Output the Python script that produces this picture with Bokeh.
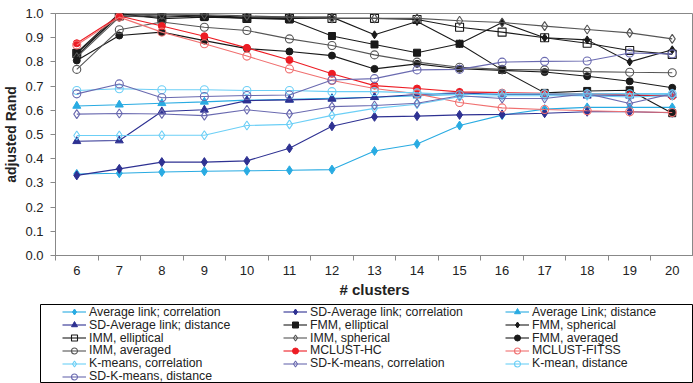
from bokeh.plotting import figure
from bokeh.layouts import column, row
from bokeh.models import Range1d, FixedTicker, Legend, LegendItem, NumeralTickFormatter
from bokeh.embed import file_html
from bokeh.resources import INLINE

clusters = list(range(6, 21))
y_ticks = [0.0, 0.1, 0.2, 0.3, 0.4, 0.5, 0.6, 0.7, 0.8, 0.9, 1.0]

avg_link_corr = [0.337, 0.340, 0.345, 0.348, 0.350, 0.352, 0.355, 0.432, 0.461, 0.537, 0.580, 0.605, 0.612, 0.612, 0.612]
sd_avg_link_corr = [0.331, 0.358, 0.386, 0.386, 0.391, 0.443, 0.534, 0.573, 0.576, 0.581, 0.583, 0.588, 0.594, 0.594, 0.590]
avg_link_dist = [0.618, 0.623, 0.629, 0.635, 0.642, 0.645, 0.650, 0.654, 0.660, 0.665, 0.665, 0.668, 0.668, 0.668, 0.668]
sd_avg_link_dist = [0.472, 0.475, 0.595, 0.602, 0.640, 0.643, 0.647, 0.654, 0.665, 0.672, 0.665, 0.665, 0.660, 0.660, 0.662]
fmm_elliptical = [0.838, 1.000, 0.978, 0.985, 0.981, 0.975, 0.907, 0.872, 0.838, 0.875, 0.767, 0.672, 0.680, 0.683, 0.588]
fmm_spherical = [0.825, 0.995, 0.995, 0.990, 0.985, 0.985, 0.985, 0.912, 0.967, 0.875, 0.963, 0.900, 0.891, 0.800, 0.850]
imm_elliptical = [0.835, 0.990, 0.985, 0.990, 0.980, 0.980, 0.980, 0.980, 0.975, 0.943, 0.923, 0.900, 0.877, 0.847, 0.831]
imm_spherical = [0.820, 0.985, 0.995, 0.995, 0.990, 0.985, 0.980, 0.980, 0.980, 0.970, 0.963, 0.948, 0.934, 0.920, 0.895]
fmm_averaged = [0.806, 0.909, 0.923, 0.888, 0.855, 0.843, 0.826, 0.771, 0.792, 0.772, 0.765, 0.758, 0.741, 0.720, 0.693]
imm_averaged = [0.769, 0.933, 0.965, 0.943, 0.930, 0.895, 0.868, 0.829, 0.799, 0.778, 0.769, 0.767, 0.760, 0.757, 0.755]
mclust_hc = [0.877, 0.990, 0.948, 0.906, 0.858, 0.808, 0.751, 0.702, 0.690, 0.676, 0.673, 0.670, 0.668, 0.664, 0.658]
mclust_fitss = [0.870, 0.985, 0.923, 0.875, 0.824, 0.771, 0.723, 0.690, 0.668, 0.632, 0.610, 0.603, 0.598, 0.594, 0.591]
kmeans_corr = [0.496, 0.496, 0.497, 0.497, 0.537, 0.542, 0.579, 0.608, 0.625, 0.656, 0.660, 0.660, 0.660, 0.655, 0.660]
sd_kmeans_corr = [0.584, 0.587, 0.585, 0.578, 0.602, 0.585, 0.615, 0.620, 0.629, 0.660, 0.649, 0.649, 0.669, 0.628, 0.669]
kmean_dist = [0.682, 0.689, 0.685, 0.685, 0.682, 0.682, 0.677, 0.677, 0.672, 0.664, 0.668, 0.668, 0.668, 0.668, 0.668]
sd_kmeans_dist = [0.668, 0.709, 0.652, 0.657, 0.661, 0.663, 0.725, 0.731, 0.767, 0.769, 0.799, 0.802, 0.804, 0.837, 0.833]

LB = "#29ABE2"
NAVY = "#2E3192"
BLK = "#1A1A1A"
GRY = "#555555"
RED = "#ED1C24"
LRED = "#F07070"
LLB = "#6CCFF6"
PUR = "#6A6AB0"

# label, values, line color, marker, filled, size
series = [
    ("Average link; correlation", avg_link_corr, LB, "diamond", True, 9),
    ("SD-Average link; correlation", sd_avg_link_corr, NAVY, "diamond", True, 9),
    ("Average Link; distance", avg_link_dist, LB, "triangle", True, 8),
    ("SD-Average link; distance", sd_avg_link_dist, NAVY, "triangle", True, 8),
    ("FMM, elliptical", fmm_elliptical, BLK, "square", True, 7),
    ("FMM, spherical", fmm_spherical, BLK, "diamond", True, 8),
    ("IMM, elliptical", imm_elliptical, BLK, "square", False, 8),
    ("IMM, spherical", imm_spherical, GRY, "diamond", False, 9),
    ("FMM, averaged", fmm_averaged, BLK, "circle", True, 7),
    ("IMM, averaged", imm_averaged, GRY, "circle", False, 8),
    ("MCLUST-HC", mclust_hc, RED, "circle", True, 7),
    ("MCLUST-FITSS", mclust_fitss, LRED, "circle", False, 8),
    ("K-means, correlation", kmeans_corr, LLB, "diamond", False, 9),
    ("SD-K-means, correlation", sd_kmeans_corr, PUR, "diamond", False, 9),
    ("K-mean, distance", kmean_dist, LLB, "circle", False, 8),
    ("SD-K-means, distance", sd_kmeans_dist, PUR, "circle", False, 8),
]

FONT = "Liberation Sans"

p = figure(width=693, height=304, output_backend="svg", toolbar_location=None,
           x_range=Range1d(5.5, 20.5), y_range=Range1d(0, 1),
           min_border_left=55, min_border_right=0, min_border_top=13, min_border_bottom=49)

# companion canvas that only carries the legend box (its ranges keep the data out of view)
LEG_H = 79
leg_fig = figure(width=693, height=LEG_H, output_backend="svg", toolbar_location=None,
                 x_range=Range1d(0, 1), y_range=Range1d(0, 1),
                 x_axis_location=None, y_axis_location=None,
                 min_border_left=40, min_border_right=0, min_border_top=0, min_border_bottom=0)
leg_fig.xgrid.visible = False
leg_fig.ygrid.visible = False
leg_fig.outline_line_color = "black"
leg_fig.outline_line_width = 1


def draw(fig, xs, vals, col, marker, filled, size):
    lr = fig.line(xs, vals, line_color=col, line_width=1.1)
    if filled:
        sr = fig.scatter(xs, vals, marker=marker, size=size, line_color=col, fill_color=col)
    else:
        sr = fig.scatter(xs, vals, marker=marker, size=size, line_color=col, fill_alpha=0, line_width=1.1)
    return lr, sr


legend_items = []
for label, vals, col, marker, filled, size in series:
    draw(p, clusters, vals, col, marker, filled, size)
    lr, sr = draw(leg_fig, clusters, vals, col, marker, filled, size)
    legend_items.append(LegendItem(label=label, renderers=[lr, sr]))

p.xgrid.visible = False
p.ygrid.visible = False
p.outline_line_color = "#888888"

p.xaxis.ticker = FixedTicker(ticks=clusters, minor_ticks=[c - 0.5 for c in clusters] + [20.5])
p.xaxis.major_tick_out = 5
p.xaxis.major_tick_in = 0
p.xaxis.minor_tick_out = 5
p.xaxis.minor_tick_in = 0
p.xaxis.minor_tick_line_color = "#888888"
p.xaxis.major_label_standoff = 5
p.xaxis.axis_label = "# clusters"
p.xaxis.axis_label_standoff = 3

p.yaxis.ticker = FixedTicker(ticks=y_ticks)
p.yaxis.formatter = NumeralTickFormatter(format="0.0")
p.yaxis.major_tick_out = 5
p.yaxis.major_tick_in = 0
p.yaxis.minor_tick_line_color = None
p.yaxis.major_label_standoff = 7
p.yaxis.axis_label = "adjusted Rand"
p.yaxis.axis_label_standoff = 3

for ax in (p.xaxis, p.yaxis):
    ax.axis_line_color = "#888888"
    ax.major_label_text_font = FONT
    ax.major_label_text_font_size = "13px"
    ax.major_label_text_color = "#222222"
    ax.axis_label_text_font = FONT
    ax.axis_label_text_font_style = "bold"
    ax.axis_label_text_color = "#222222"
p.xaxis.axis_label_text_font_size = "15px"
p.yaxis.axis_label_text_font_size = "14px"
p.yaxis.major_tick_line_color = "#888888"
p.xaxis.major_tick_line_color = None

# legend laid out as 3 columns, read row by row as in the reference
ITEM_H = 15
ROW_PITCH = 12.9
FIRST_TOP = 0.2
col_x = [22, 243, 465]
for i, item in enumerate(legend_items):
    r, c = divmod(i, 3)
    vy = LEG_H - (FIRST_TOP + ROW_PITCH * r) - ITEM_H
    lg = Legend(items=[item], orientation="vertical", location=(col_x[c], vy),
                label_text_font=FONT, label_text_font_size="12.3px", label_text_color="#222222",
                glyph_width=24, glyph_height=ITEM_H, label_height=ITEM_H, label_standoff=3,
                spacing=0, padding=0, margin=0,
                border_line_color=None, background_fill_alpha=0)
    leg_fig.add_layout(lg, "center")

layout = column(p, row(leg_fig, spacing=0), spacing=0)
open("out.html", "w").write(file_html(layout, INLINE))
